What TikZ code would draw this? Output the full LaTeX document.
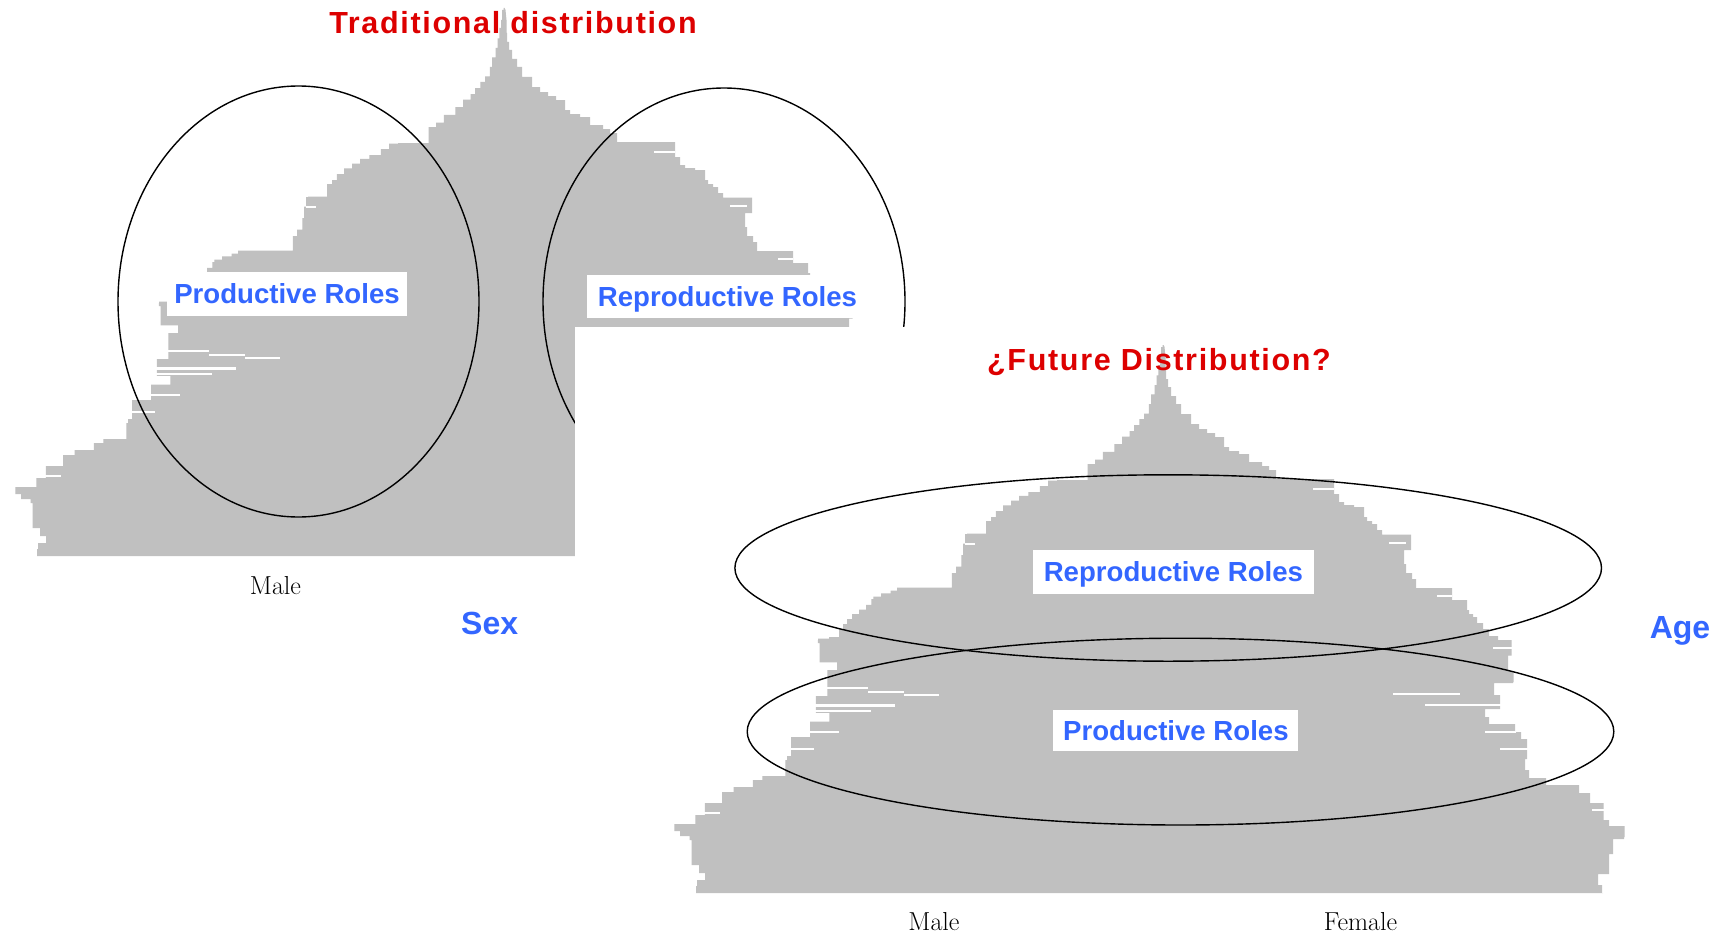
\documentclass[tikz,border=0pt]{standalone}
\usepackage{fontspec}
\usetikzlibrary{shapes.geometric}
\newfontfamily\sansf{Liberation Sans}
\newfontfamily\titlef{Liberation Sans}[LetterSpace=5.5]
\definecolor{pyrgray}{RGB}{192,192,192}
\definecolor{labblue}{RGB}{51,102,255}
\definecolor{titred}{RGB}{221,0,0}
\newcommand\pyrfill{%
\fill[pyrgray] (37,556) |- (38,549) |- (46,543) |- (40,536) |- (32.5,528) |- (30.6,503) |- (21,499) |- (15.3,494) |- (15.3,489) |- (36.4,487) |- (36.4,484) |- (45.9,478) |- (45.9,468) |- (63.1,466) |- (63.1,457) |- (74.6,455) |- (74.6,451) |- (93.8,450) |- (93.8,445) |- (103.3,443) |- (103.3,440) |- (126.3,439) |- (128.2,423) |- (132,419) |- (132,402) |- (151.2,400) |- (151.2,386.5) |- (170.3,384.6) |- (170.3,377) |- (156.9,375.8) |- (156.9,359.7) |- (168.4,359) |- (168.4,336.8) |- (178,333) |- (178,327.2) |- (160.7,325.3) |- (158.8,306.2) |- (159,303) |- (170,301.5) |- (180,300) |- (184,292) |- (188,287) |- (193,282) |- (200,277) |- (207,272.5) |- (212.4,267.9) |- (214.3,262.2) |- (222,259.5) |- (231.5,256.4) |- (238,253.5) |- (246.8,250.7) |- (292.8,250.5) |- (292.8,241.1) |- (297,236) |- (302.3,229.6) |- (304,218) |- (306.2,206.7) |- (308,197) |- (327.2,196.5) |- (327.2,187.5) |- (332,184) |- (336.8,180) |- (344,174) |- (352,168.4) |- (360,163.5) |- (369.3,158.8) |- (380.8,155) |- (389,149) |- (398,143.5) |- (428.6,143) |- (428.6,132) |- (436,127) |- (443.9,122.5) |- (455.4,114.8) |- (463,107) |- (470.7,99.5) |- (475,94) |- (480.3,88) |- (485,82) |- (489.9,76.5) |- (492,67) |- (495.6,57.4) |- (497.5,48) |- (499.4,38.3) |- (501,28) |- (502,20) |- (503.5,10) |- (504.5,8)
-- (505.5,10) -- (506.5,20) |- (507,33) |- (509,42) |- (512,50) |- (517,59) |- (522,67) |- (532,77) |- (540,87) |- (548,92) |- (556,96) |- (565,100) |- (570,110) |- (580,114) |- (590,117) |- (603,125) |- (610,129) |- (617,133) |- (617,141.5) |- (675,142) |- (680,157) |- (685,165) |- (695,168) |- (705,170) |- (708,180) |- (713,184) |- (718,187) |- (723,193) |- (723,197) |- (752,197.5) |- (745,213) |- (747,227) |- (753,236) |- (757,242) |- (757,250.5) |- (793,251) |- (793,260) |- (808,263) |- (810,273) |- (814,277) |- (818,280) |- (824,286) |- (830,292) |- (839,299) |- (852.6,303) |- (849,318.5) |- (854.5,334) |- (854,345) |- (835,346) |- (841,358) |- (841,366) |- (826,372) |- (830,380) |- (856,387) |- (862,395) |- (868,402) |- (866,422) |- (870,433) |- (887,441) |- (920,448) |- (931,456) |- (944.5,466) |- (950,483) |- (965.5,489) |- (965,500) |- (954,502) |- (950,517) |- (950,529) |- (939,537) |- (943,548) |- (944,556) -- cycle;
\draw[white,line width=2.2pt]
 (168,351) -- (209,351) (209,355) -- (245,355) (245,358) -- (280,358)
 (156,368.5) -- (236,368.5) (156,374.3) -- (212,374.3) (151,395) -- (180,395)
 (131,412) -- (155,412) (45,476) -- (61,476) (306,206.7) -- (316,206.7)
 (654,152) -- (675,152) (730,206) -- (747,206) (778,259) -- (793,259)
 (834,311) -- (853,311) (734,356.7) -- (801,356.7) (766,368) -- (842,368)
 (826,395) -- (857,395) (841,412) -- (869,412) (933,473) -- (945,473);}
\tikzset{
  ell/.style={ellipse,draw=black,line width=1.4pt,inner sep=0pt},
  rolebox/.style={fill=white,inner sep=0pt,text=labblue,font=\sansf\bfseries\fontsize{27.6}{30}\selectfont,text height=19.8pt,text depth=0pt},
  titletext/.style={anchor=base,text=titred,inner sep=0pt,font=\titlef\bfseries\fontsize{30.5}{36}\selectfont},
  axistext/.style={anchor=base,inner sep=0pt,font=\fontsize{26}{30}\selectfont},
  vartext/.style={anchor=base,inner sep=0pt,text=labblue,font=\sansf\bfseries\fontsize{32}{36}\selectfont}
}
\begin{document}
\begin{tikzpicture}[x=1pt,y=-1pt]
\useasboundingbox (0,0) rectangle (1727,934);
\fill[white] (0,0) rectangle (1727,934);
% ---- left picture: traditional distribution
\pyrfill
\node[titletext] (titL) at (513,33.3) {Traditional distribution};
\node[ell,minimum width=361pt,minimum height=431pt] (ellProdL) at (298.5,301.5) {};
\node[ell,minimum width=362pt,minimum height=427pt] (ellReprL) at (724,301.5) {};
\node[rolebox,minimum width=239.6pt,minimum height=43.2pt] (prodL) at (287,294) {Productive Roles};
\node[rolebox,minimum width=271.6pt,minimum height=43.3pt] (reprL) at (722.5,296.7) {\hspace*{10pt}Reproductive Roles};
\node[axistext] (maleL) at (275.5,594.3) {Male};
\node[vartext] (sexL) at (489.7,634) {Sex};
% ---- right picture: future distribution (white background over the left one)
\fill[white] (575,327) rectangle (1727,934);
\begin{scope}[shift={(659,337)}]
\pyrfill
\end{scope}
\node[titletext] (titR) at (1159,370) {¿Future Distribution?};
\node[ell,minimum width=866.6pt,minimum height=186.4pt] (ellReprR) at (1168.2,568) {};
\node[ell,minimum width=866.6pt,minimum height=186.8pt] (ellProdR) at (1180.5,731.6) {};
\node[rolebox,minimum width=280.8pt,minimum height=43.3pt] (reprR) at (1173.4,571.9) {Reproductive Roles};
\node[rolebox,minimum width=245pt,minimum height=41.3pt] (prodR) at (1175.9,730.5) {Productive Roles};
\node[axistext] (maleR) at (934,930) {Male};
\node[axistext] (femaleR) at (1360.5,930) {Female};
\node[vartext] (ageR) at (1680,638) {Age};
\end{tikzpicture}
\end{document}
